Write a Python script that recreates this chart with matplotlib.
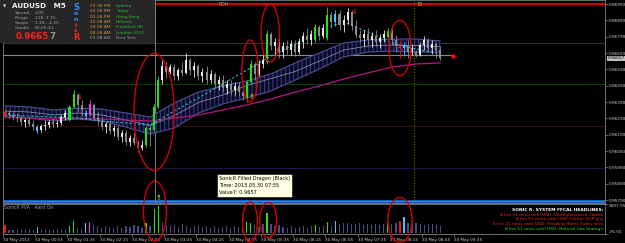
import numpy as np
import matplotlib.pyplot as plt
from matplotlib.patches import Ellipse, Rectangle

W, H = 625, 243

# AUDUSD M5 candles, prices in points (1 point = 0.00001)
opens = [96304, 96323, 96311, 96298, 96292, 96268, 96280, 96256, 96237, 96219,
         96243, 96249, 96268, 96256, 96262, 96298, 96280, 96360, 96433, 96372,
         96323, 96317, 96372, 96292, 96274, 96237, 96256, 96213, 96231, 96176,
         96200, 96145, 96170, 96139, 96109, 96127, 96231, 96219, 96360, 96525,
         96611, 96574, 96604, 96549, 96586, 96568, 96647, 96586, 96611, 96549,
         96574, 96525, 96562, 96500, 96525, 96476, 96500, 96464, 96488, 96451,
         96415, 96513, 96623, 96562, 96623, 96635, 96806, 96733, 96757, 96696,
         96733, 96708, 96745, 96696, 96757, 96794, 96770, 96770, 96849, 96794,
         96782, 96923, 96880, 96929, 96861, 96892, 96941, 96855, 96800, 96782,
         96806, 96770, 96794, 96757, 96782, 96788, 96825, 96770, 96745, 96721,
         96739, 96696, 96696, 96678, 96739, 96770, 96721, 96745, 96708]
highs = [96353, 96341, 96329, 96323, 96311, 96292, 96298, 96280, 96249, 96256,
         96280, 96280, 96292, 96280, 96311, 96341, 96372, 96464, 96445, 96402,
         96341, 96402, 96384, 96329, 96298, 96268, 96280, 96249, 96243, 96219,
         96219, 96188, 96200, 96158, 96158, 96243, 96256, 96378, 96549, 96647,
         96635, 96623, 96623, 96598, 96635, 96690, 96660, 96635, 96623, 96598,
         96611, 96586, 96574, 96549, 96555, 96525, 96525, 96513, 96513, 96494,
         96525, 96647, 96635, 96647, 96684, 96831, 96819, 96782, 96782, 96757,
         96770, 96770, 96770, 96782, 96819, 96843, 96831, 96868, 96861, 96868,
         96972, 96941, 96953, 96953, 96923, 96966, 96953, 96892, 96831, 96831,
         96843, 96819, 96831, 96806, 96831, 96843, 96843, 96800, 96770, 96757,
         96770, 96745, 96708, 96757, 96794, 96782, 96770, 96757, 96733]
lows = [96292, 96292, 96280, 96268, 96249, 96237, 96243, 96219, 96200, 96207,
        96219, 96231, 96237, 96237, 96249, 96280, 96274, 96353, 96329, 96304,
        96292, 96304, 96280, 96249, 96219, 96200, 96194, 96182, 96158, 96145,
        96127, 96121, 96127, 96084, 96096, 96115, 96121, 96207, 96353, 96500,
        96537, 96562, 96525, 96525, 96549, 96562, 96555, 96543, 96525, 96513,
        96500, 96507, 96476, 96464, 96451, 96439, 96433, 96433, 96427, 96402,
        96390, 96500, 96525, 96549, 96598, 96623, 96708, 96672, 96660, 96660,
        96684, 96678, 96672, 96684, 96721, 96745, 96739, 96757, 96770, 96782,
        96770, 96843, 96855, 96831, 96819, 96868, 96831, 96782, 96757, 96733,
        96745, 96727, 96733, 96721, 96757, 96782, 96739, 96696, 96660, 96672,
        96660, 96678, 96666, 96672, 96708, 96696, 96684, 96660, 96647]
closes = [96329, 96311, 96298, 96292, 96268, 96280, 96256, 96237, 96213, 96243,
          96249, 96268, 96256, 96262, 96298, 96323, 96360, 96439, 96372, 96341,
          96304, 96378, 96292, 96274, 96237, 96256, 96213, 96231, 96176, 96200,
          96145, 96170, 96139, 96109, 96127, 96231, 96219, 96360, 96525, 96611,
          96574, 96604, 96549, 96586, 96568, 96647, 96586, 96611, 96549, 96574,
          96525, 96562, 96500, 96525, 96476, 96500, 96464, 96488, 96451, 96427,
          96513, 96623, 96562, 96623, 96647, 96806, 96733, 96757, 96696, 96733,
          96708, 96745, 96696, 96757, 96794, 96770, 96806, 96849, 96794, 96843,
          96923, 96880, 96929, 96861, 96892, 96941, 96855, 96800, 96782, 96806,
          96770, 96794, 96757, 96782, 96806, 96825, 96770, 96733, 96721, 96739,
          96696, 96721, 96678, 96739, 96770, 96721, 96745, 96708, 96657]
volumes = [716, 300, 270, 350, 300, 260, 330, 280, 540, 300,
           350, 280, 320, 380, 300, 400, 630, 1070, 450, 380,
           900, 985, 700, 600, 500, 650, 550, 450, 600, 500,
           650, 550, 700, 600, 500, 900, 600, 2150, 2420, 900,
           750, 600, 700, 550, 800, 650, 500, 600, 700, 550,
           650, 500, 600, 450, 550, 650, 500, 600, 550, 700,
           985, 900, 700, 550, 800, 1790, 800, 650, 700, 550,
           500, 600, 450, 550, 600, 500, 650, 716, 550, 600,
           985, 600, 1074, 800, 900, 950, 850, 800, 900, 750,
           850, 700, 800, 750, 850, 985, 800, 900, 1074, 1430,
           900, 850, 950, 800, 700, 850, 800, 750, 600]

# PVA colouring (bar indexes)
green_bars = [16, 17, 35, 37, 38, 60, 61, 65, 77, 80, 95]
blue_bars = [8, 20, 82, 99]
red_bars = [0, 98]
magenta_bars = [21]

# indicator lines, sampled every 6 bars
ma_bars = [0, 6, 12, 18, 24, 30, 36, 42, 48, 54, 60, 66, 72, 78, 84, 90, 96, 102, 108]
dragon_hi = [96366, 96360, 96341, 96353, 96347, 96323, 96298, 96384, 96451, 96488,
             96519, 96562, 96629, 96690, 96751, 96770, 96776, 96776, 96764]
dragon_lo = [96298, 96292, 96274, 96286, 96274, 96237, 96194, 96231, 96323, 96378,
             96415, 96458, 96525, 96592, 96666, 96696, 96702, 96696, 96696]
dragon_mid = [96335, 96329, 96311, 96323, 96311, 96280, 96247, 96307, 96387, 96433,
              96491, 96534, 96577, 96641, 96708, 96733, 96739, 96736, 96730]
trend_cyan = [96311, 96304, 96298, 96292, 96274, 96262, 96249, 96335, 96415, 96500,
              96586, 96672, 96745, 96831, 96880, 96819, 96751, 96715, 96684]
ema_slow = [96298, 96292, 96286, 96292, 96286, 96280, 96274, 96292, 96311, 96341,
            96372, 96409, 96451, 96488, 96531, 96568, 96604, 96623, 96629]

time_labels = ["30 May 2013", "30 May 00:55", "30 May 01:35", "30 May 02:15",
               "30 May 02:55", "30 May 03:35", "30 May 04:15", "30 May 04:55",
               "30 May 05:35", "30 May 06:15", "30 May 06:55", "30 May 07:35",
               "30 May 08:15", "30 May 08:55", "30 May 09:35"]
price_ticks = [0.95790 + 0.001 * k for k in range(13)]
last_price = 0.96657


def p(v):
    return np.asarray(v) / 1e5


def fx(x):
    return x / W


def fy(y):
    return 1 - y / H


o, hi, lo, c = p(opens), p(highs), p(lows), p(closes)
n = len(o)
idx = np.arange(n)

col_candle = np.where(c >= o, "#e8e8e8", "#8c8c8c")
col_vol = np.array(["#4a4a88"] * n, dtype=object)
for ids, col in [(green_bars, "#20e020"), (blue_bars, "#40c8ff"),
                 (red_bars, "#ff1010"), (magenta_bars, "#ff30ff")]:
    col_candle[ids] = col
    col_vol[ids] = col

fig = plt.figure(figsize=(W / 100, H / 100), dpi=100, facecolor="black")
ax = fig.add_axes([fx(3), fy(203), fx(602), 203 / H], facecolor="black")
axv = fig.add_axes([fx(3), fy(234), fx(602), 30 / H], facecolor="black")

xlim = (-0.5, -0.5 + 602 / 4.03)
for a in (ax, axv):
    a.set_xlim(*xlim)
    for s in a.spines.values():
        s.set_color("#808080")
        s.set_linewidth(0.6)

ax.set_ylim(0.957721, 0.970145)

# horizontal levels
ax.axhline(0.96990, color="#d00000", lw=1.6, zorder=1)
ax.axhline(0.96751, color="#303030", lw=0.8, zorder=1)
ax.axhline(0.96500, color="#004000", lw=0.8, zorder=1)
ax.axhline(0.96243, color="#3a1010", lw=0.8, zorder=1)
ax.axhline(0.95986, color="#18184a", lw=0.8, zorder=1)
ax.axhline(0.95784, color="#1e80ff", lw=1.8, zorder=1)
ax.hlines(0.96678, -0.5, 111.2, color="#8a8a8a", lw=0.8, zorder=1)
ax.plot([111.2], [0.96672], "o", color="#ff0000", ms=2.2, zorder=6)
ax.axvline(37.2, color="#7a7a7a", lw=0.7, zorder=1)
ax.axvline(101.6, color="#6a6a00", lw=0.8, ls=(0, (1, 1.5)), zorder=1)

# filled dragon
plt.rcParams["hatch.linewidth"] = 0.9
ax.fill_between(ma_bars, p(dragon_lo), p(dragon_hi), facecolor="#08081e",
                edgecolor="#34347c", hatch="||||", linewidth=0, zorder=2)
ax.plot(ma_bars, p(dragon_hi), color="#50509a", lw=0.8, zorder=2)
ax.plot(ma_bars, p(dragon_lo), color="#50509a", lw=0.8, zorder=2)
ax.plot(ma_bars, p(dragon_mid), color="#9a9ac8", lw=0.5, zorder=2)
ax.plot(ma_bars, p(ema_slow), color="#b01880", lw=0.9, zorder=2)
ax.plot(ma_bars, p(trend_cyan), color="#20c0d0", lw=0.8, ls=(0, (2, 2)), zorder=3)

# candles
ax.vlines(idx, lo, hi, colors=col_candle, lw=0.6, zorder=4)
ax.bar(idx, np.maximum(np.abs(c - o), 0.00002), bottom=np.minimum(o, c),
       width=0.5, color=col_candle, linewidth=0, zorder=5)

# signal arrows
ax.text(18.6, 0.96421, "\u2193", color="#ff2020", fontsize=5, fontweight="bold",
        ha="center", va="center", zorder=6)
ax.text(86.8, 0.96941, "\u2193", color="#ff2020", fontsize=5, fontweight="bold",
        ha="center", va="center", zorder=6)
ax.text(61.3, 0.96421, "\u2191", color="#e0c000", fontsize=5, fontweight="bold",
        ha="center", va="center", zorder=6)
ax.text(38.0, 0.95803, "\u2191", color="#a0ff20", fontsize=5, fontweight="bold",
        ha="center", va="center", zorder=6)

# price axis
ax.yaxis.tick_right()
ax.set_yticks(price_ticks)
ax.set_yticklabels(["%.5f" % v for v in price_ticks])
ax.tick_params(axis="y", colors="#808080", labelcolor="#d0d0d0", labelsize=3.1,
               length=2, width=0.5, pad=0.8)
ax.set_xticks([])
ax.text(1.004, last_price, "%.5f" % last_price, transform=ax.get_yaxis_transform(),
        fontsize=3.1, color="black", va="center", ha="left", zorder=10,
        bbox=dict(boxstyle="square,pad=0.15", fc="#c0c0c0", ec="none"))

ell_main = [(37.0, 0.96329, 10, 0.00716), (60.8, 0.96580, 4.0, 0.0038),
            (65.8, 0.96813, 4.5, 0.00355), (98.0, 0.96721, 5.5, 0.00337)]
for x0, y0, w, h in ell_main:
    ax.add_patch(Ellipse((x0, y0), w, h, fill=False, ec="#d00000", lw=1.0, zorder=8))

ax.text(53.0, 0.96984, "ROH", color="#a0a0a0", fontsize=3.3, ha="left", va="center")
ax.text(102.2, 0.96984, "18", color="#c8c800", fontsize=3.3, ha="left", va="center")

# volume window
axv.set_ylim(-76.55, 2607.55)
axv.bar(idx, volumes, width=0.3, color=list(col_vol), linewidth=0)
axv.yaxis.tick_right()
axv.set_yticks([2607.55, -76.55])
axv.set_yticklabels(["2607.55", "-76.55"])
for lab, va in zip(axv.get_yticklabels(), ["top", "bottom"]):
    lab.set_va(va)
axv.tick_params(axis="y", colors="#808080", labelcolor="#d0d0d0", labelsize=3.1,
                length=2, width=0.5, pad=0.8)
axv.set_xticks(np.arange(len(time_labels)) * 8 - 0.5)
axv.set_xticklabels(time_labels, ha="left")
axv.tick_params(axis="x", colors="#808080", labelcolor="#d0d0d0", labelsize=3.0,
                length=2, width=0.5, pad=1)
axv.text(0.002, 0.88, "SonicR PVA   Alert On", transform=axv.transAxes,
         color="#a0a0a0", fontsize=3.3, ha="left", va="center")

ell_vol = [(37.2, 1978, 5.7, 5370), (60.8, 993, 3.7, 3580),
           (65.3, 1172, 4.2, 3130), (98.0, 1172, 6.0, 4030)]
for x0, y0, w, h in ell_vol:
    axv.add_patch(Ellipse((x0, y0), w, h, fill=False, ec="#d00000", lw=1.0,
                          zorder=8, clip_on=False))

heads = [("SONIC R. SYSTEM FFCAL HEADLINES:", "#ffffff", "bold"),
         ("4 hrs 51 mins until USD: Unemployment Claims", "#ff2020", "normal"),
         ("4 hrs 51 mins until USD: Prelim GDP q/q", "#ff2020", "normal"),
         ("6 hrs 21 mins until USD: Pending Home Sales m/m", "#ff2020", "normal"),
         ("8 hrs 51 mins until USD: Natural Gas Storage", "#30d030", "normal")]
for k, (t, col, wt) in enumerate(heads):
    fig.text(fx(603), fy(210 + 4.7 * k), t, color=col, fontsize=3.2, fontweight=wt,
             ha="right", va="center", zorder=12)

# tooltip
fig.text(fx(219), fy(176), "SonicR Filled Dragon (Black)\nTime: 2013.05.30 07:55\nValue7: 0.9657",
         color="black", fontsize=3.6, ha="left", va="top", linespacing=1.5, zorder=12,
         bbox=dict(boxstyle="square,pad=0.45", fc="#ffffe1", ec="black", lw=0.4))

# info panel
fig.add_artist(Rectangle((0, fy(43)), fx(155), 43 / H, transform=fig.transFigure,
                         fc="#262626", ec="none", zorder=10))
fig.text(fx(3), fy(6), "\u25bc", color="#e0e0e0", fontsize=3, va="center", zorder=11)
fig.text(fx(12), fy(6), "AUDUSD   M5", color="#f0f0f0", fontsize=5.2, fontweight="bold",
         va="center", zorder=11)
info = [("Spread", "2.00"), ("Range", "118, 1.15"), ("Swaps", "1.35, -4.25"),
        ("Candle", "00:00:21")]
for k, (a, b) in enumerate(info):
    fig.text(fx(15), fy(13 + 5 * k), a, color="#a0a0a0", fontsize=3.2, va="center", zorder=11)
    fig.text(fx(35), fy(13 + 5 * k), b, color="#a0a0a0", fontsize=3.2, va="center", zorder=11)
fig.text(fx(49), fy(36.5), "0.9665", color="#ff2020", fontsize=6.2, fontweight="bold",
         ha="right", va="center", zorder=11)
fig.text(fx(49.5), fy(36.5), "7", color="#909090", fontsize=6.2, fontweight="bold",
         ha="left", va="center", zorder=11)
sonic = [("S", "#2890ff", 6, 7), ("o", "#2890ff", 4.5, 13.5), ("n", "#2890ff", 4.5, 19.5),
         ("i", "#ff3030", 4.5, 25.5), ("c", "#ff3030", 4.5, 31), ("R", "#ff2020", 6, 38)]
for ch, col, fs, yy in sonic:
    fig.text(fx(76), fy(yy), ch, color=col, fontsize=fs, fontweight="bold",
             ha="center", va="center", zorder=11)
clocks = ["03:38 PM", "04:38 PM", "03:38 PM", "10:38 AM", "09:38 AM", "08:38 AM", "03:38 AM"]
cities = ["Sydney", "Tokyo", "Hong Kong", "Helsinki", "Frankfurt (8)", "London (O/C)", "New York"]
for k, (t, city) in enumerate(zip(clocks, cities)):
    last = k == len(clocks) - 1
    fig.text(fx(90), fy(6 + 5.3 * k), t, color="#909090" if last else "#d09048",
             fontsize=3.2, va="center", zorder=11)
    fig.text(fx(116), fy(6 + 5.3 * k), city, color="#909090" if last else "#30c030",
             fontsize=3.2, va="center", zorder=11)

fig.savefig("out.png", dpi=100, facecolor="black")
